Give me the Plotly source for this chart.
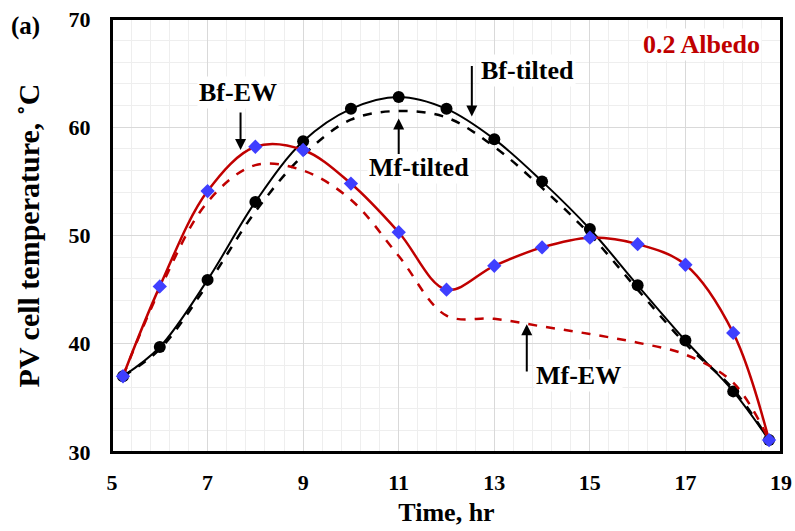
import plotly.graph_objects as go

hours = [5.23, 6, 7, 8, 9, 10, 11, 12, 13, 14, 15, 16, 17, 18, 18.75]
bf_tilted = [37.0, 39.7, 45.9, 53.1, 58.7, 61.7, 62.8, 61.7, 58.9, 55.0, 50.6, 45.4, 40.3, 35.6, 31.1]
mf_tilted = [37.0, 39.5, 45.5, 52.2, 57.4, 60.7, 61.5, 60.9, 58.2, 54.4, 50.1, 45.0, 40.0, 35.8, 31.1]
bf_ew = [37.0, 45.3, 54.1, 58.2, 57.9, 54.8, 50.3, 45.0, 47.2, 48.9, 49.8, 49.2, 47.3, 41.0, 31.1]
mf_ew = [37.0, 45.0, 53.1, 56.5, 56.0, 53.3, 48.1, 42.6, 42.3, 41.6, 40.9, 40.1, 39.0, 36.4, 31.1]

x_ticks = [5, 7, 9, 11, 13, 15, 17, 19]
y_ticks = [30, 40, 50, 60, 70]

FONT = "Liberation Serif"
RED = "#C00000"

L, R, T, B = 112, 14, 19, 79

fig = go.Figure()
fig.add_trace(go.Scatter(x=hours, y=mf_tilted, mode="lines",
                         line=dict(color="black", width=2.5, dash="dash", shape="spline", smoothing=1.0),
                         name="Mf-tilted"))
fig.add_trace(go.Scatter(x=hours, y=bf_tilted, mode="lines+markers",
                         line=dict(color="black", width=2, shape="spline", smoothing=1.0),
                         marker=dict(symbol="circle", size=12, color="black"),
                         name="Bf-tilted"))
fig.add_trace(go.Scatter(x=hours, y=mf_ew, mode="lines",
                         line=dict(color=RED, width=2.5, dash="dash", shape="spline", smoothing=1.0),
                         name="Mf-EW"))
fig.add_trace(go.Scatter(x=hours, y=bf_ew, mode="lines+markers",
                         line=dict(color=RED, width=2.5, shape="spline", smoothing=1.0),
                         marker=dict(symbol="diamond", size=11, color="#3F3FFF"),
                         name="Bf-EW"))

def label(text, x, y, color="black", size=26):
    fig.add_annotation(x=x, y=y, xref="x", yref="y", text="<b>%s</b>" % text, showarrow=False,
                       font=dict(family=FONT, size=size, color=color), bgcolor="white")

def arrow(x, y_from, y_to):
    fig.add_annotation(x=x, y=y_to, ax=x, ay=y_from, xref="x", yref="y", axref="x", ayref="y",
                       text="", showarrow=True, arrowhead=2, arrowsize=1.1, arrowwidth=2,
                       arrowcolor="black", standoff=0, startstandoff=0)

label("Bf-EW", 7.63, 63.2)
arrow(7.69, 61.5, 57.9)
label("Bf-tilted", 13.69, 65.2)
arrow(12.53, 65.8, 61.0)
label("Mf-tilted", 11.42, 56.3)
arrow(11.0, 57.4, 60.8)
label("Mf-EW", 14.77, 37.1)
arrow(13.68, 37.3, 41.8)
label("0.2 Albedo", 17.33, 67.6, color=RED)

fig.add_annotation(x=(25 - 112) / 669, y=(452 - 26) / 433, xref="x domain", yref="y domain",
                   xanchor="center", yanchor="middle",
                   text="<b>(a)</b>", showarrow=False,
                   font=dict(family=FONT, size=25, color="black"))

# plot frame
fig.add_shape(type="rect", xref="x domain", yref="y domain", x0=0, x1=1, y0=0, y1=1,
              line=dict(color="black", width=2), fillcolor="rgba(0,0,0,0)", layer="above")

common = dict(showline=True, linecolor="black", linewidth=2, mirror=True, zeroline=False,
              automargin=False)

fig.update_layout(
    width=795, height=531,
    margin=dict(l=L, r=R, t=T, b=B, autoexpand=False),
    paper_bgcolor="white", plot_bgcolor="white",
    showlegend=False,
    font=dict(family=FONT, color="black"),
    xaxis=dict(range=[5, 19], tickvals=x_ticks, ticktext=[str(v) for v in x_ticks],
               showgrid=True, gridcolor="#d9d9d9", gridwidth=1,
               minor=dict(dtick=0.4, tick0=5, showgrid=True, gridcolor="#eeeeee", gridwidth=1),
               ticks="outside", ticklen=10, tickwidth=1, tickcolor="rgba(0,0,0,0)",
               tickfont=dict(family=FONT, size=22, color="black", weight="bold"),
               title=dict(text="<b>Time, hr</b>", font=dict(family=FONT, size=26, color="black"), standoff=8),
               **common),
    yaxis=dict(range=[30, 70], tickvals=y_ticks, ticktext=[str(v) for v in y_ticks],
               showgrid=True, gridcolor="#d9d9d9", gridwidth=1,
               minor=dict(dtick=2, tick0=30, showgrid=True, gridcolor="#eeeeee", gridwidth=1),
               ticks="outside", ticklen=15, tickwidth=1, tickcolor="rgba(0,0,0,0)",
               tickfont=dict(family=FONT, size=22, color="black", weight="bold"),
               title=dict(text="<b>PV cell temperature, ˚C</b>", font=dict(family=FONT, size=30, color="black"), standoff=20),
               **common),
    xaxis2=dict(overlaying="x", matches="x", anchor="y", side="bottom", range=[5, 19],
                tickvals=x_ticks, showticklabels=False, showgrid=False,
                ticks="inside", ticklen=6, tickwidth=1.5, tickcolor="black",
                showline=False, zeroline=False),
    yaxis2=dict(overlaying="y", matches="y", anchor="x", side="left", range=[30, 70],
                tickvals=y_ticks, showticklabels=False, showgrid=False,
                ticks="inside", ticklen=6, tickwidth=1.5, tickcolor="black",
                showline=False, zeroline=False),
)

fig.write_html("out.html", config={"displayModeBar": False},
               post_script="document.body.style.margin='0';document.body.style.overflow='hidden';")
